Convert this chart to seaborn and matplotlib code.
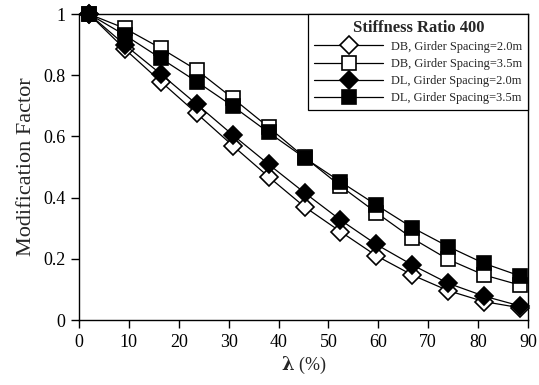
import matplotlib
matplotlib.use("Agg")
import matplotlib.pyplot as plt
import seaborn as sns
import pandas as pd

lam = [2, 9.2, 16.4, 23.6, 30.8, 38.0, 45.2, 52.4, 59.6, 66.8, 74.0, 81.2, 88.4]
db_20 = [1.0, 0.885, 0.779, 0.675, 0.570, 0.468, 0.370, 0.289, 0.210, 0.147, 0.096, 0.060, 0.040]
db_35 = [1.0, 0.953, 0.888, 0.817, 0.725, 0.630, 0.532, 0.438, 0.351, 0.267, 0.198, 0.147, 0.114]
dl_20 = [1.0, 0.899, 0.804, 0.705, 0.605, 0.509, 0.416, 0.327, 0.247, 0.180, 0.120, 0.078, 0.046]
dl_35 = [1.0, 0.931, 0.855, 0.779, 0.699, 0.613, 0.530, 0.452, 0.376, 0.302, 0.240, 0.185, 0.144]
labels = ["DB, Girder Spacing=2.0m", "DB, Girder Spacing=3.5m",
          "DL, Girder Spacing=2.0m", "DL, Girder Spacing=3.5m"]
xticks = [0, 10, 20, 30, 40, 50, 60, 70, 80, 90]
yticks = [0, 0.2, 0.4, 0.6, 0.8, 1.0]
ytick_labels = ["0", "0.2", "0.4", "0.6", "0.8", "1"]

sns.set_style("ticks")
plt.rcParams["font.family"] = ["Liberation Serif", "DejaVu Serif"]
plt.rcParams["mathtext.fontset"] = "dejavuserif"

fig = plt.figure(figsize=(5.39, 3.85), dpi=100)
ax = fig.add_axes([0.1466, 0.1688, 0.833, 0.7948])

series = [db_20, db_35, dl_20, dl_35]
markers = ["D", "s", "D", "s"]
faces = ["white", "white", "black", "black"]
sizes = [9.5, 10.5, 9.5, 10.5]
for vals, lab, mk, fc, ms in zip(series, labels, markers, faces, sizes):
    df = pd.DataFrame({"lam": lam, "mf": vals})
    sns.lineplot(data=df, x="lam", y="mf", ax=ax, color="#777777", linewidth=0.9,
                 marker=mk, markersize=ms, markerfacecolor=fc,
                 markeredgecolor="black", markeredgewidth=1.2,
                 clip_on=False, label=lab, zorder=3)

ax.set_xlim(0, 90)
ax.set_ylim(0, 1)
ax.set_xticks(xticks)
ax.set_yticks(yticks)
ax.set_yticklabels(ytick_labels)
ax.tick_params(axis="both", direction="out", length=6, width=1, labelsize=13,
               colors="black", pad=4)
for sp in ax.spines.values():
    sp.set_visible(True)
    sp.set_color("black")
    sp.set_linewidth(1.0)

ax.set_xlabel(r"$\mathbf{\lambda}$ (%)", fontsize=13, labelpad=3)
ax.set_ylabel("Modification Factor", fontsize=16, labelpad=5)

handles, _ = ax.get_legend_handles_labels()
for h in handles:
    h.set_color("black")
    h.set_linewidth(0.9)
leg = ax.legend(handles, labels, loc="upper right", bbox_to_anchor=(1.0, 1.0),
                title="Stiffness Ratio 400", fontsize=8.9, frameon=True,
                fancybox=False, edgecolor="black", framealpha=1,
                handlelength=5.6, borderpad=0.45, labelspacing=0.42,
                handletextpad=0.65, borderaxespad=0.0)
leg.get_frame().set_linewidth(0.9)
leg.get_title().set_fontweight("bold")
leg.get_title().set_fontsize(12)
leg.set_zorder(5)

fig.savefig("out.png", dpi=100)
